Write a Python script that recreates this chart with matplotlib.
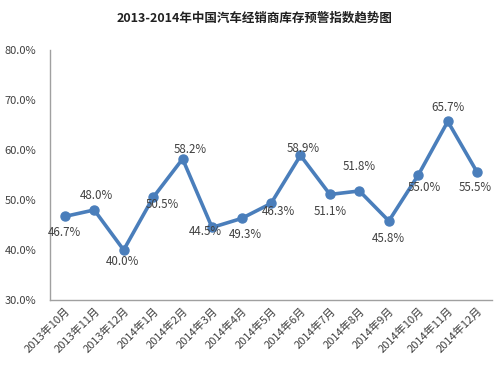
import matplotlib.pyplot as plt
from matplotlib.ticker import FuncFormatter

plt.rcParams['font.family'] = ['Noto Sans CJK SC', 'DejaVu Sans']

# 数据
months = ['2013年10月', '2013年11月', '2013年12月', '2014年1月', '2014年2月',
          '2014年3月', '2014年4月', '2014年5月', '2014年6月', '2014年7月',
          '2014年8月', '2014年9月', '2014年10月', '2014年11月', '2014年12月']
values = [46.7, 48.0, 40.0, 50.5, 58.2, 44.5, 46.3, 49.3, 58.9, 51.1,
          51.8, 45.8, 55.0, 65.7, 55.5]
# etykiety tak jak na oryginale (4 i 5 miesiac zamienione)
labels = ['46.7%', '48.0%', '40.0%', '50.5%', '58.2%', '44.5%', '49.3%', '46.3%',
          '58.9%', '51.1%', '51.8%', '45.8%', '55.0%', '65.7%', '55.5%']

# przesuniecia etykiet w pikselach (dx, dy)
offsets = [(0, -16), (2, 14), (-1, -12), (9, -7), (8, 9), (-7, -4), (4, -16),
           (7, -8), (3, 7), (0, -17), (0, 24), (0, -18), (6, -13), (0, 14), (-2, -15)]

fig = plt.figure(figsize=(5, 3.75), dpi=100)
ax = fig.add_axes([0.1, 0.2, 0.884, 0.667])

x = range(len(months))
ax.plot(x, values, color='#4a7ebb', lw=2.6, marker='o', ms=6.5, zorder=3)

for i, (v, lab) in enumerate(zip(values, labels)):
    dx, dy = offsets[i]
    ax.annotate(lab, (i, v), xytext=(dx, dy), textcoords='offset pixels',
                ha='center', va='center', fontsize=8.3, color='#404040')

ax.set_xlim(-0.5, len(months) - 0.5)
ax.set_ylim(30, 80)
ax.set_yticks(range(30, 81, 10))
ax.yaxis.set_major_formatter(FuncFormatter(lambda v, p: f'{v:.1f}%'))
ax.set_xticks(list(x))
ax.set_xticklabels(months, rotation=45, ha='right', rotation_mode='anchor',
                   fontsize=8, color='#404040')
ax.tick_params(axis='y', labelsize=8, labelcolor='#404040', length=0, pad=10)
ax.tick_params(axis='x', length=0, pad=4)

for s in ['top', 'right']:
    ax.spines[s].set_visible(False)
for s in ['left', 'bottom']:
    ax.spines[s].set_color('#a0a0a0')
    ax.spines[s].set_linewidth(1)

fig.suptitle('2013-2014年中国汽车经销商库存预警指数趋势图', x=0.51, y=0.97,
             fontsize=9, fontweight='bold', color='#202020')

plt.savefig('out.png')
